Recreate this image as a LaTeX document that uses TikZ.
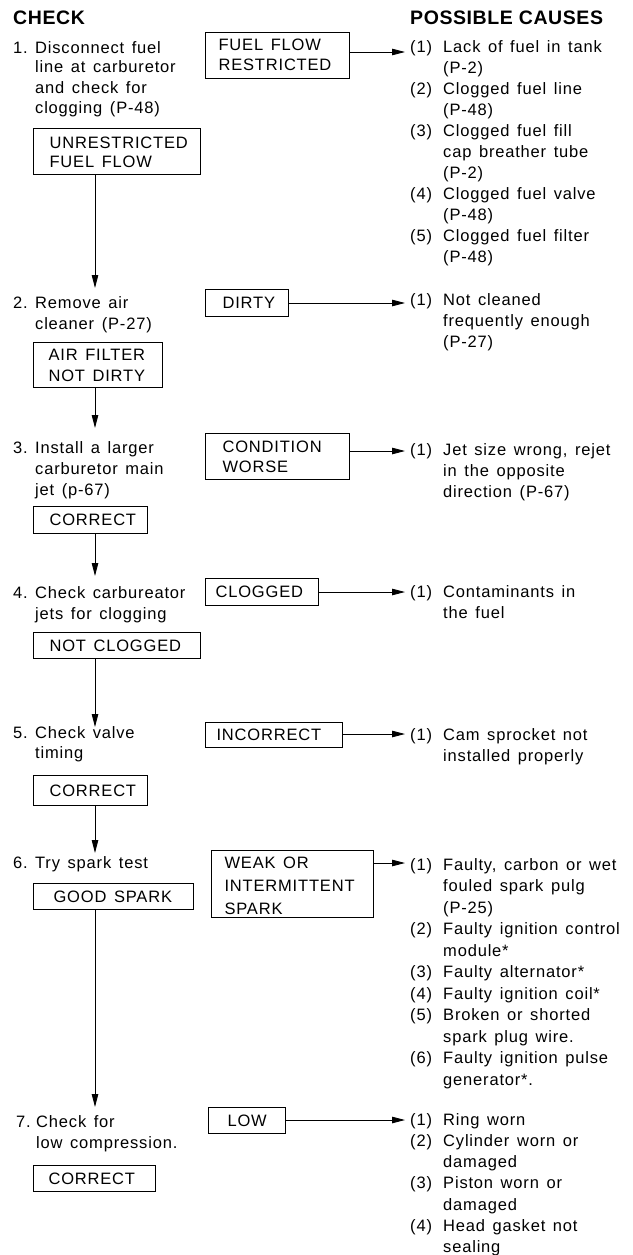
\documentclass[tikz,border=0pt]{standalone}
\usepackage{fontspec}
\usetikzlibrary{arrows.meta}
\newfontfamily\bodyfam[LetterSpace=5,WordSpace=1.4]{Liberation Sans}
\newfontfamily\headfam[LetterSpace=3]{Liberation Sans}
\newcommand{\bodytext}{\bodyfam\fontsize{16.5}{21}\selectfont}
\newcommand{\headtext}{\headfam\bfseries\fontsize{19.5}{23}\selectfont}
\newcommand{\boxtext}[3]{\makebox[#1][l]{\hspace*{#2}\begin{tabular}[t]{@{}l@{}}#3\end{tabular}}}
\tikzset{
  lbl/.style={anchor=base west, inner sep=0pt, font=\bodytext},
  hdr/.style={anchor=base west, inner sep=0pt, font=\headtext},
  bx/.style 2 args={draw, line width=1.1pt, anchor=north west, inner sep=0pt, font=\bodytext, text height=#1, text depth=#2},
  arr/.style={line width=0.9pt, -{Triangle[length=13pt,width=6.5pt]}},
}
\begin{document}
\begin{tikzpicture}[x=1pt, y=-1pt]
\useasboundingbox (0,0) rectangle (632,1255);

% headings
\node[hdr] (hcheck) at (13,25) {CHECK};
\node[hdr] (hcauses) at (410,25) {POSSIBLE CAUSES};

% check steps
\node[lbl] (s1) at (13,53) {\begin{tabular}[t]{@{}p{22pt}@{}l@{}}1.&Disconnect fuel\\[-1pt] &line at carburetor\\[-1pt] &and check for\\[-1pt] &clogging (P-48)\end{tabular}};
\node[lbl] (s2) at (13,308) {\begin{tabular}[t]{@{}p{22pt}@{}l@{}}2.&Remove air\\ &cleaner (P-27)\end{tabular}};
\node[lbl] (s3) at (13,453) {\begin{tabular}[t]{@{}p{22pt}@{}l@{}}3.&Install a larger\\ &carburetor main\\ &jet (p-67)\end{tabular}};
\node[lbl] (s4) at (13,598) {\begin{tabular}[t]{@{}p{22pt}@{}l@{}}4.&Check carbureator\\ &jets for clogging\end{tabular}};
\node[lbl] (s5) at (13,738) {\begin{tabular}[t]{@{}p{22pt}@{}l@{}}5.&Check valve\\[-1pt] &timing\end{tabular}};
\node[lbl] (s6) at (13,868) {\begin{tabular}[t]{@{}p{22pt}@{}l@{}}6.&Try spark test\end{tabular}};
\node[lbl] (s7) at (16,1127) {\begin{tabular}[t]{@{}p{20pt}@{}l@{}}7.&Check for\\ &low compression.\end{tabular}};

% result boxes
\node[bx={20pt}{26pt}] (b1) at (33,128) {\boxtext{167pt}{16pt}{UNRESTRICTED\\[-2pt]FUEL FLOW}};
\node[bx={18pt}{28pt}] (b2) at (205,32) {\boxtext{144pt}{13pt}{FUEL FLOW\\[-1pt]RESTRICTED}};
\node[bx={19.2pt}{7.8pt}] (b3) at (205,289) {\boxtext{83pt}{17pt}{DIRTY}};
\node[bx={17.7pt}{27.3pt}] (b4) at (33,342) {\boxtext{129pt}{15pt}{AIR FILTER\\NOT DIRTY}};
\node[bx={18.7pt}{27.3pt}] (b5) at (205,433) {\boxtext{144pt}{17pt}{CONDITION\\[-1pt]WORSE}};
\node[bx={19.2pt}{7.8pt}] (b6) at (33,506) {\boxtext{114pt}{16pt}{CORRECT}};
\node[bx={19.2pt}{7.8pt}] (b7) at (205,578) {\boxtext{113pt}{10pt}{CLOGGED}};
\node[bx={18.5pt}{7pt}] (b8) at (33,632) {\boxtext{167pt}{16pt}{NOT CLOGGED}};
\node[bx={18.2pt}{6.8pt}] (b9) at (205,722) {\boxtext{137pt}{11pt}{INCORRECT}};
\node[bx={20.6pt}{9.4pt}] (b10) at (33,775) {\boxtext{114pt}{16pt}{CORRECT}};
\node[bx={17.5pt}{49.5pt}] (b11) at (211,850) {\boxtext{162pt}{13pt}{WEAK OR\\[2pt]INTERMITTENT\\[2pt]SPARK}};
\node[bx={18.65pt}{7.35pt}] (b12) at (33,883) {\boxtext{160pt}{20pt}{GOOD SPARK}};
\node[bx={18.65pt}{7.35pt}] (b13) at (208,1107) {\boxtext{77pt}{19pt}{LOW}};
\node[bx={18.65pt}{7.35pt}] (b14) at (33,1165) {\boxtext{122pt}{15pt}{CORRECT}};

% possible causes
\node[lbl] (r1) at (410,52.5) {\begin{tabular}[t]{@{}p{33pt}@{}l@{}}
(1)&Lack of fuel in tank\\ &(P-2)\\
(2)&Clogged fuel line\\ &(P-48)\\
(3)&Clogged fuel fill\\ &cap breather tube\\ &(P-2)\\
(4)&Clogged fuel valve\\ &(P-48)\\
(5)&Clogged fuel filter\\ &(P-48)\end{tabular}};
\node[lbl] (r2) at (410,305) {\begin{tabular}[t]{@{}p{33pt}@{}l@{}}
(1)&Not cleaned\\ &frequently enough\\ &(P-27)\end{tabular}};
\node[lbl] (r3) at (410,455) {\begin{tabular}[t]{@{}p{33pt}@{}l@{}}
(1)&Jet size wrong, rejet\\ &in the opposite\\ &direction (P-67)\end{tabular}};
\node[lbl] (r4) at (410,597) {\begin{tabular}[t]{@{}p{33pt}@{}l@{}}
(1)&Contaminants in\\ &the fuel\end{tabular}};
\node[lbl] (r5) at (410,740) {\begin{tabular}[t]{@{}p{33pt}@{}l@{}}
(1)&Cam sprocket not\\ &installed properly\end{tabular}};
\node[lbl] (r6) at (410,870) {\begin{tabular}[t]{@{}p{33pt}@{}l@{}}
(1)&Faulty, carbon or wet\\[0.5pt] &fouled spark pulg\\[0.5pt] &(P-25)\\[0.5pt]
(2)&Faulty ignition control\\[0.5pt] &module*\\[0.5pt]
(3)&Faulty alternator*\\[0.5pt]
(4)&Faulty ignition coil*\\[0.5pt]
(5)&Broken or shorted\\[0.5pt] &spark plug wire.\\[0.5pt]
(6)&Faulty ignition pulse\\[0.5pt] &generator*.\end{tabular}};
\node[lbl] (r7) at (410,1125) {\begin{tabular}[t]{@{}p{33pt}@{}l@{}}
(1)&Ring worn\\[0.3pt]
(2)&Cylinder worn or\\[0.3pt] &damaged\\[0.3pt]
(3)&Piston worn or\\[0.3pt] &damaged\\[0.3pt]
(4)&Head gasket not\\[0.3pt] &sealing\end{tabular}};

% arrow tips
\coordinate (h1) at (405,52);
\coordinate (h2) at (405,303);
\coordinate (h3) at (405,451);
\coordinate (h4) at (405,592);
\coordinate (h5) at (405,734);
\coordinate (h6) at (405,863);
\coordinate (h7) at (405,1120);
\coordinate (v1) at (95,288);
\coordinate (v2) at (95,428);
\coordinate (v3) at (95,576);
\coordinate (v4) at (95,727);
\coordinate (v5) at (95,853);
\coordinate (v6) at (95,1107);

% horizontal connectors
\draw[arr] (b2.east |- h1) -- (h1);
\draw[arr] (b3.east |- h2) -- (h2);
\draw[arr] (b5.east |- h3) -- (h3);
\draw[arr] (b7.east |- h4) -- (h4);
\draw[arr] (b9.east |- h5) -- (h5);
\draw[arr] (b11.east |- h6) -- (h6);
\draw[arr] (b13.east |- h7) -- (h7);

% vertical connectors
\draw[arr] (b1.south -| v1) -- (v1);
\draw[arr] (b4.south -| v2) -- (v2);
\draw[arr] (b6.south -| v3) -- (v3);
\draw[arr] (b8.south -| v4) -- (v4);
\draw[arr] (b10.south -| v5) -- (v5);
\draw[arr] (b12.south -| v6) -- (v6);
\end{tikzpicture}
\end{document}
